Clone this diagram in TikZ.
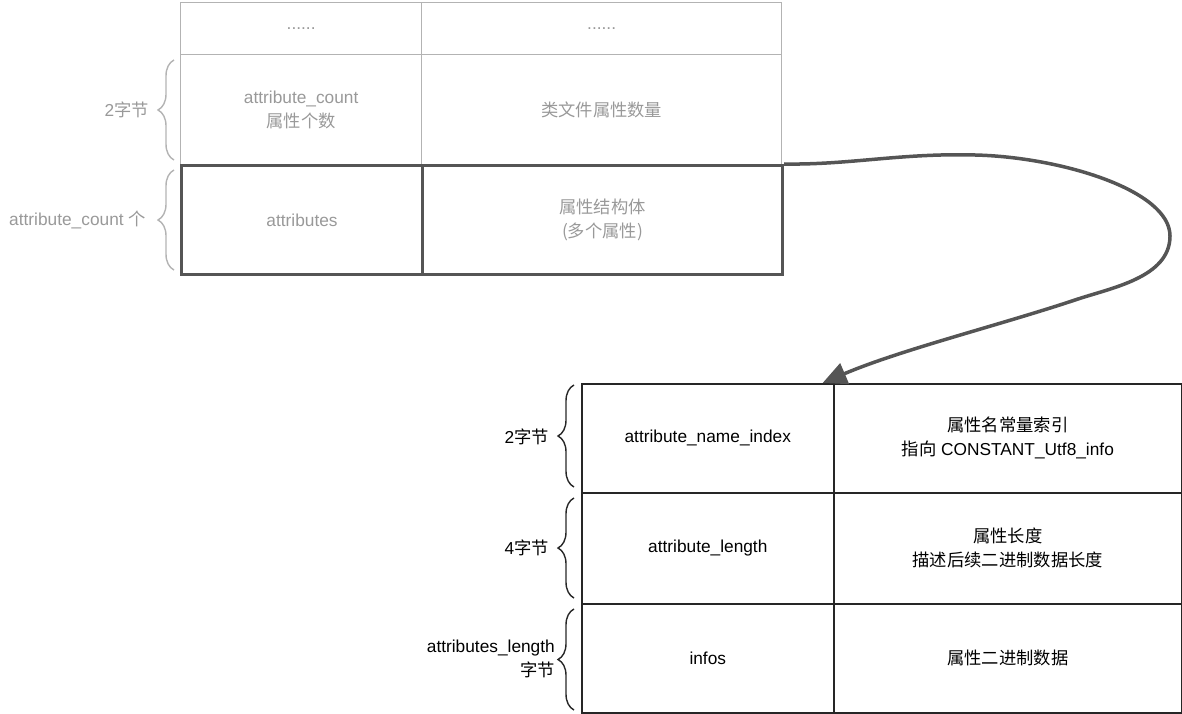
\documentclass[tikz,border=0pt]{standalone}
\usepackage{fontspec}
\setmainfont{Liberation Sans}
\newfontfamily\cjk{Noto Sans CJK SC}
\usetikzlibrary{arrows.meta,decorations.pathreplacing,calc}
\definecolor{gtext}{HTML}{999999}
\definecolor{gline}{HTML}{B3B3B3}
\definecolor{dline}{HTML}{555555}
\begin{document}
\begin{tikzpicture}[x=1pt,y=-1pt,
  every node/.style={font=\fontsize{17.3}{24}\selectfont},
  cellbase/.style={rectangle,inner sep=0pt,align=center,anchor=north west},
  cellg/.style={cellbase,draw=gline,line width=1.3pt,text=gtext},
  cellk/.style={cellbase,draw=black!85,line width=1.6pt,text=black},
  bracesty/.style={decorate,decoration={brace,amplitude=16pt},line width=1.4pt},
  lbl/.style={anchor=east,align=right,inner sep=0pt}
]
\useasboundingbox (0,0) rectangle (1182,714);
% top table
\node[cellg,minimum width=241pt,minimum height=52pt] (a1) at (180,2) {......};
\node[cellg,minimum width=360pt,minimum height=52pt] (b1) at (421,2) {......};
\node[cellg,minimum width=241pt,minimum height=110pt] (a2) at (180,54) {attribute\_count\\{\cjk 属性个数}};
\node[cellg,minimum width=360pt,minimum height=110pt] (b2) at (421,54) {{\cjk 类文件属性数量}};
\node[cellbase,draw=dline,line width=3pt,text=gtext,minimum width=241pt,minimum height=109pt] (a3) at (180,164) {attributes};
\node[cellbase,draw=dline,line width=3pt,text=gtext,minimum width=360pt,minimum height=109pt] (b3) at (421,164) {{\cjk 属性结构体}\\{\cjk (多个属性)}};
% top braces
\draw[bracesty,draw=gline] (174,160) -- (174,60);
\draw[bracesty,draw=gline] (174,270) -- (174,170);
\node[lbl,text=gtext] (la2) at (149,110) {2{\cjk 字节}};
\node[lbl,text=gtext] (la3) at (146,220) {attribute\_count {\cjk 个}};
% bottom table
\node[cellk,minimum width=252pt,minimum height=109pt] (c1) at (581,383) {attribute\_name\_index};
\node[cellk,minimum width=348pt,minimum height=109pt] (d1) at (833,383) {{\cjk 属性名常量索引}\\{\cjk 指向} CONSTANT\_Utf8\_info};
\node[cellk,minimum width=252pt,minimum height=111pt] (c2) at (581,492) {attribute\_length};
\node[cellk,minimum width=348pt,minimum height=111pt] (d2) at (833,492) {{\cjk 属性长度}\\{\cjk 描述后续二进制数据长度}};
\node[cellk,minimum width=252pt,minimum height=109pt] (c3) at (581,603) {infos};
\node[cellk,minimum width=348pt,minimum height=109pt] (d3) at (833,603) {{\cjk 属性二进制数据}};
% bottom braces
\draw[bracesty,draw=black!85] (574,487) -- (574,385);
\draw[bracesty,draw=black!85] (574,598) -- (574,498);
\draw[bracesty,draw=black!85] (574,710) -- (574,609);
\node[lbl] (lc1) at (549,437) {2{\cjk 字节}};
\node[lbl] (lc2) at (549,548) {4{\cjk 字节}};
\node[lbl] (lc3) at (555,659) {attributes\_length\\{\cjk 字节}};
% curved connector
\coordinate (tip) at ($(c1.north east)+(-12,0)$);
\draw[dline,line width=3.5pt,-{Triangle[length=24pt,width=22pt]}]
  (b3.north east) .. controls (850,165) and (900,153) .. (975,155)
  .. controls (1060,157) and (1170,190) .. (1170,236)
  .. controls (1170,278) and (1110,288) .. (1075,300)
  .. controls (1000,325) and (900,350) .. (tip);
\end{tikzpicture}
\end{document}
